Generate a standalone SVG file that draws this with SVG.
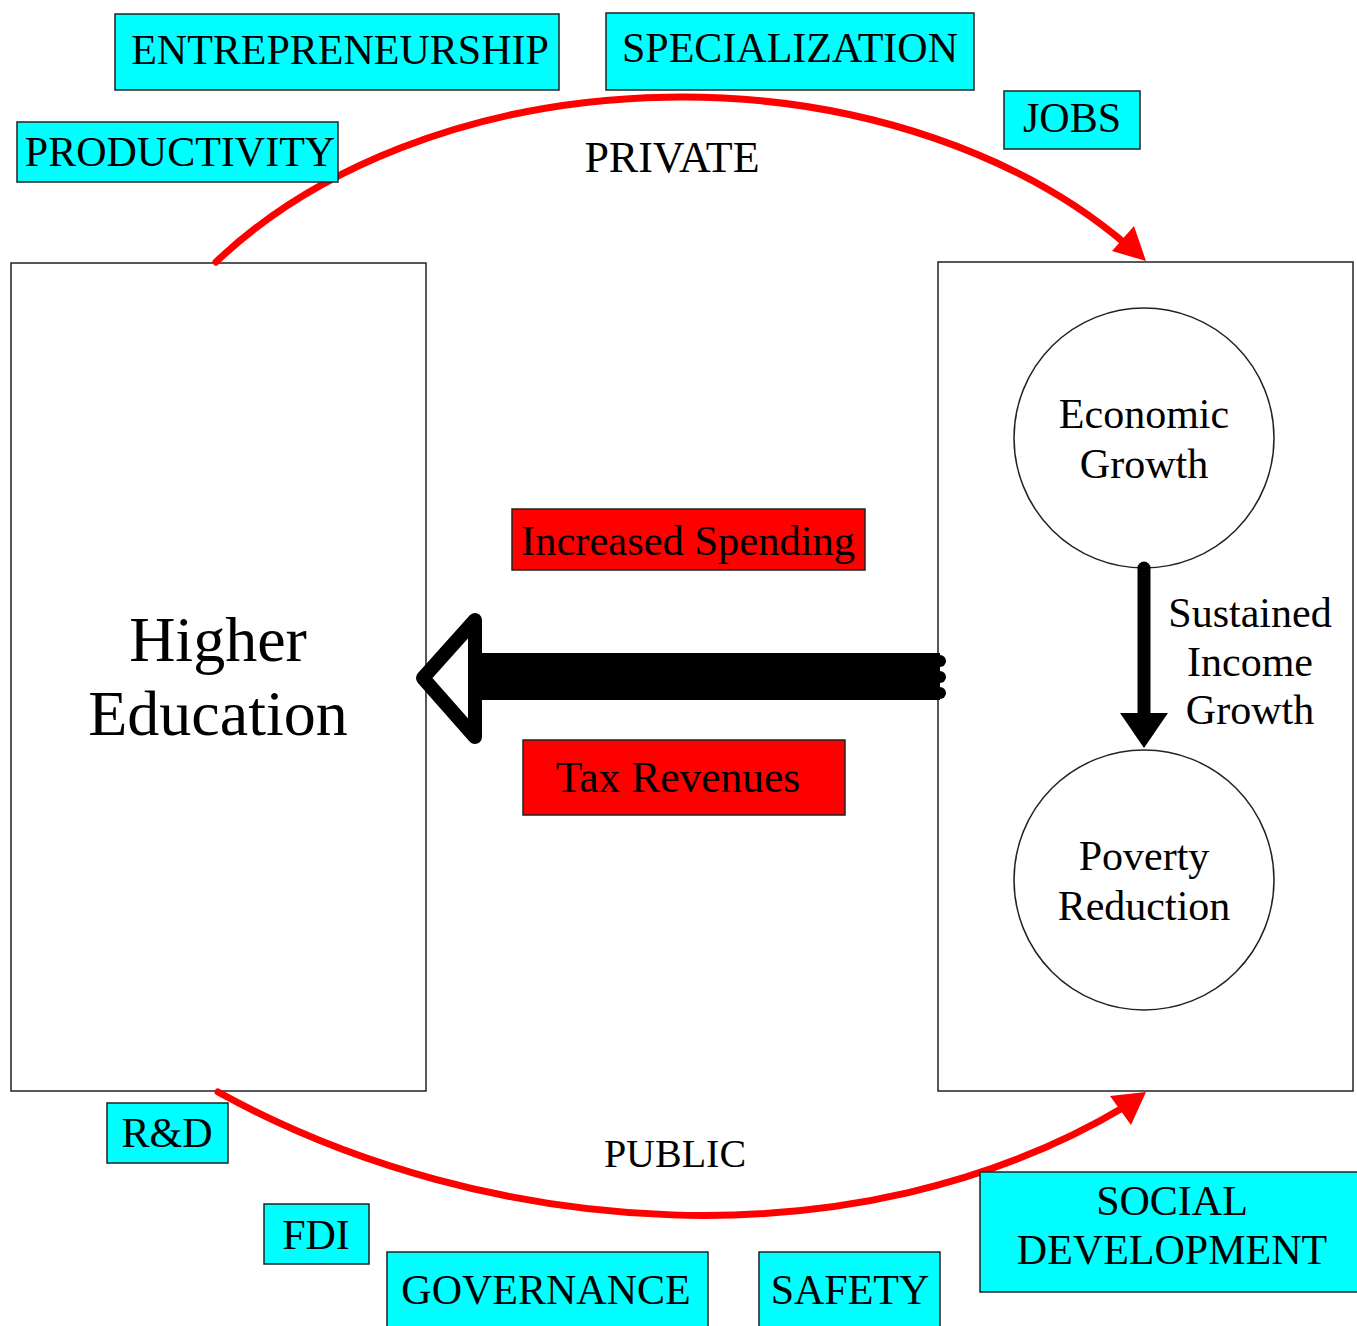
<svg xmlns="http://www.w3.org/2000/svg" width="1357" height="1326" viewBox="0 0 1357 1326">
<style>
.t{font-family:"Liberation Serif","Times New Roman",serif;fill:#000}
.cy{fill:#00ffff;stroke:#222;stroke-width:1.5}
.rd{fill:#ff0000;stroke:#222;stroke-width:1.5}
.bx{fill:#fff;stroke:#222;stroke-width:1.5}
.arc{fill:none;stroke:#ff0000;stroke-width:7;stroke-linecap:round}
</style>
<rect width="1357" height="1326" fill="#fff"/>
<g id="higher-education">
  <rect class="bx" x="11" y="263" width="415" height="828"/>
  <text class="t" x="218" y="661" font-size="64" text-anchor="middle">Higher</text>
  <text class="t" x="218" y="735" font-size="64" text-anchor="middle">Education</text>
</g>
<g id="outcomes">
  <rect class="bx" x="938" y="262" width="415" height="829"/>
</g>
<g id="economic-growth">
  <circle class="bx" cx="1144" cy="438" r="130"/>
  <text class="t" x="1144" y="428" font-size="42" text-anchor="middle">Economic</text>
  <text class="t" x="1144" y="478" font-size="42" text-anchor="middle">Growth</text>
</g>
<g id="poverty-reduction">
  <circle class="bx" cx="1144" cy="880" r="130"/>
  <text class="t" x="1144" y="870" font-size="42" text-anchor="middle">Poverty</text>
  <text class="t" x="1144" y="920" font-size="42" text-anchor="middle">Reduction</text>
</g>
<g id="connectors">
  <path class="arc" d="M216,262 A576,403 0 0 1 1128,246"/>
  <polygon points="1146,261 1112,251 1134,226" fill="#ff0000"/>
  <path class="arc" d="M218,1092 C487,1240 857,1267 1126,1106"/>
  <polygon points="1146,1092 1110,1096 1131,1125" fill="#ff0000"/>
  <g id="big-arrow">
    <polygon points="423,678 475,620 475,737" fill="#fff" stroke="#000" stroke-width="14" stroke-linejoin="round"/>
    <rect x="470" y="653" width="470" height="47" fill="#000"/>
    <circle cx="940" cy="661" r="6" fill="#000"/>
    <circle cx="940" cy="677" r="6" fill="#000"/>
    <circle cx="940" cy="693" r="6" fill="#000"/>
  </g>
  <g id="small-arrow">
    <line x1="1144" y1="568" x2="1144" y2="716" stroke="#000" stroke-width="13" stroke-linecap="round"/>
    <polygon points="1120,713 1168,713 1144,748" fill="#000"/>
  </g>
</g>
<g id="sustained-income-growth">
  <text class="t" x="1250" y="627" font-size="42" text-anchor="middle">Sustained</text>
  <text class="t" x="1250" y="676" font-size="42" text-anchor="middle">Income</text>
  <text class="t" x="1250" y="724" font-size="42" text-anchor="middle">Growth</text>
</g>
<g id="private-label"><text class="t" x="672" y="172" font-size="44" text-anchor="middle">PRIVATE</text></g>
<g id="public-label"><text class="t" x="675" y="1167" font-size="40" text-anchor="middle">PUBLIC</text></g>
<g id="increased-spending">
  <rect class="rd" x="512" y="509" width="353" height="61"/>
  <text class="t" x="688" y="555" font-size="42.5" text-anchor="middle">Increased Spending</text>
</g>
<g id="tax-revenues">
  <rect class="rd" x="523" y="740" width="322" height="75"/>
  <text class="t" x="678" y="792" font-size="43.5" text-anchor="middle">Tax Revenues</text>
</g>
<g id="entrepreneurship">
  <rect class="cy" x="115" y="14" width="444" height="76"/>
  <text class="t" x="340" y="64" font-size="42" text-anchor="middle">ENTREPRENEURSHIP</text>
</g>
<g id="specialization">
  <rect class="cy" x="606" y="13" width="368" height="77"/>
  <text class="t" x="790" y="62" font-size="42" text-anchor="middle">SPECIALIZATION</text>
</g>
<g id="jobs">
  <rect class="cy" x="1004" y="91" width="136" height="58"/>
  <text class="t" x="1072" y="132" font-size="42" text-anchor="middle">JOBS</text>
</g>
<g id="productivity">
  <rect class="cy" x="17" y="122" width="321" height="60"/>
  <text class="t" x="180" y="166" font-size="42" text-anchor="middle">PRODUCTIVITY</text>
</g>
<g id="rnd">
  <rect class="cy" x="107" y="1103" width="121" height="60"/>
  <text class="t" x="167" y="1147" font-size="42" text-anchor="middle">R&amp;D</text>
</g>
<g id="fdi">
  <rect class="cy" x="264" y="1204" width="105" height="60"/>
  <text class="t" x="316" y="1249" font-size="42" text-anchor="middle">FDI</text>
</g>
<g id="governance">
  <rect class="cy" x="387" y="1252" width="321" height="80"/>
  <text class="t" x="546" y="1304" font-size="42" text-anchor="middle">GOVERNANCE</text>
</g>
<g id="safety">
  <rect class="cy" x="759" y="1252" width="181" height="80"/>
  <text class="t" x="850" y="1304" font-size="42" text-anchor="middle">SAFETY</text>
</g>
<g id="social-development">
  <rect class="cy" x="980" y="1172" width="380" height="120"/>
  <text class="t" x="1172" y="1215" font-size="42" text-anchor="middle">SOCIAL</text>
  <text class="t" x="1172" y="1264" font-size="42" text-anchor="middle">DEVELOPMENT</text>
</g>
</svg>
